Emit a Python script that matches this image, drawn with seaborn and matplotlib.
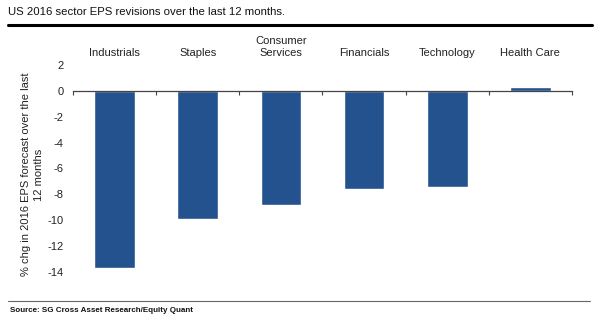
import matplotlib
matplotlib.use("Agg")
import matplotlib.pyplot as plt
import seaborn as sns
import pandas as pd
from matplotlib.lines import Line2D

sectors = ["Industrials", "Staples", "Consumer\nServices", "Financials", "Technology", "Health Care"]
revisions = [-13.7, -9.9, -8.8, -7.6, -7.45, 0.3]
yticks = [2, 0, -2, -4, -6, -8, -10, -12, -14]

title = "US 2016 sector EPS revisions over the last 12 months."
ylabel = "% chg in 2016 EPS forecast over the last\n12 months"
source = "Source: SG Cross Asset Research/Equity Quant"

sns.set_theme(style="white")
plt.rcParams["font.family"] = ["Liberation Sans", "DejaVu Sans"]

df = pd.DataFrame({"sector": sectors, "value": revisions})

fig = plt.figure(figsize=(6.0, 3.27), dpi=100)
ax = fig.add_axes([73/600, 1-272/327, (572-73)/600, (272-65)/327])

sns.barplot(data=df, x="sector", y="value", color="#24528E", saturation=1,
            width=0.49, ax=ax)

ax.set_ylim(-14, 2)
ax.set_xlim(-0.5, len(sectors) - 0.5)
ax.set_yticks(yticks)
ax.set_yticklabels([str(t) for t in yticks], fontsize=8, color="#222222")
ax.set_xlabel("")
ax.set_ylabel(ylabel, fontsize=8, color="#222222", linespacing=1.35)
ax.yaxis.set_label_coords(-0.058, 0.47)

for s in ["left", "right", "top"]:
    ax.spines[s].set_visible(False)
ax.spines["bottom"].set_position(("data", 0))
ax.spines["bottom"].set_color("#444444")
ax.spines["bottom"].set_linewidth(0.9)

ax.xaxis.set_ticks_position("both")
ax.set_xticks([i - 0.5 for i in range(len(sectors) + 1)], minor=True)
ax.tick_params(axis="x", which="major", top=False, bottom=False, length=0,
               labeltop=True, labelbottom=False, labelsize=8, pad=5,
               labelcolor="#222222")
ax.tick_params(axis="x", which="minor", bottom=True, top=False,
               direction="out", length=3, width=0.8, color="#444444")
ax.tick_params(axis="y", left=False, length=0, pad=7)
for lbl in ax.get_xticklabels():
    lbl.set_linespacing(1.3)

fig.text(8/600, 1-12/327, title, fontsize=8.2, color="#111111", va="center", ha="left")
fig.add_artist(Line2D([8/600, 592/600], [1-25/327, 1-25/327], color="black", lw=2.2))
fig.add_artist(Line2D([8/600, 590/600], [1-301/327, 1-301/327], color="#666666", lw=0.8))
fig.text(10/600, 1-310/327, source, fontsize=5.8, color="#111111", va="center", ha="left",
         fontweight="bold")

fig.savefig("out.png", dpi=100)
